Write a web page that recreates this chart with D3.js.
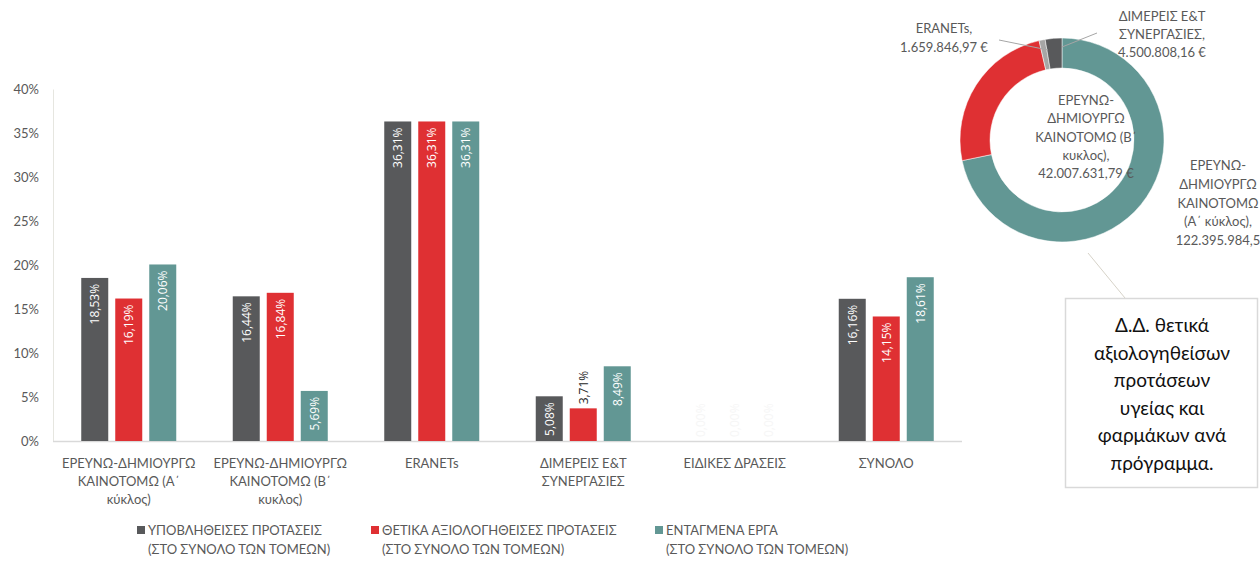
<!DOCTYPE html>
<html><head><meta charset="utf-8">
<script src="https://cdn.jsdelivr.net/npm/d3@7"></script>
<style>body{margin:0;background:#fff;}svg{display:block;font-family:Lato,"Open Sans",sans-serif;}</style>
</head><body><svg id="c" width="1260" height="561"></svg>
<script>
const categories = [
  ["ΕΡΕΥΝΩ-ΔΗΜΙΟΥΡΓΩ","ΚΑΙΝΟΤΟΜΩ (Α΄","κύκλος)"],
  ["ΕΡΕΥΝΩ-ΔΗΜΙΟΥΡΓΩ","ΚΑΙΝΟΤΟΜΩ (Β΄","κυκλος)"],
  ["ERANETs"],
  ["ΔΙΜΕΡΕΙΣ Ε&Τ","ΣΥΝΕΡΓΑΣΙΕΣ"],
  ["ΕΙΔΙΚΕΣ ΔΡΑΣΕΙΣ"],
  ["ΣΥΝΟΛΟ"]
];
const seriesNames = [
  ["ΥΠΟΒΛΗΘΕΙΣΕΣ ΠΡΟΤΑΣΕΙΣ","(ΣΤΟ ΣΥΝΟΛΟ ΤΩΝ ΤΟΜΕΩΝ)"],
  ["ΘΕΤΙΚΑ ΑΞΙΟΛΟΓΗΘΕΙΣΕΣ ΠΡΟΤΑΣΕΙΣ","(ΣΤΟ ΣΥΝΟΛΟ ΤΩΝ ΤΟΜΕΩΝ)"],
  ["ΕΝΤΑΓΜΕΝΑ ΕΡΓΑ","(ΣΤΟ ΣΥΝΟΛΟ ΤΩΝ ΤΟΜΕΩΝ)"]
];
const submitted = [18.53, 16.44, 36.31, 5.08, 0, 16.16];
const approved  = [16.19, 16.84, 36.31, 3.71, 0, 14.15];
const funded    = [20.06, 5.69, 36.31, 8.49, 0, 18.61];
const yTicks = [0,5,10,15,20,25,30,35,40];

const donutLabels = [
  ["ΕΡΕΥΝΩ-","ΔΗΜΙΟΥΡΓΩ","ΚΑΙΝΟΤΟΜΩ","(Α΄ κύκλος),","122.395.984,5"],
  ["ΕΡΕΥΝΩ-","ΔΗΜΙΟΥΡΓΩ","ΚΑΙΝΟΤΟΜΩ (Β΄","κυκλος),","42.007.631,79 €"],
  ["ERANETs,","1.659.846,97 €"],
  ["ΔΙΜΕΡΕΙΣ Ε&Τ","ΣΥΝΕΡΓΑΣΙΕΣ,","4.500.808,16 €"]
];
const donutValues = [122395984.5, 42007631.79, 1659846.97, 4500808.16];
const boxText = ["Δ.Δ. θετικά","αξιολογηθείσων","προτάσεων","υγείας και","φαρμάκων ανά","πρόγραμμα."];

const colors = ["#58595b","#df3033","#629794"];
const donutColors = ["#629794","#df3033","#a6a6a6","#58595b"];
const series = [submitted, approved, funded];

const svg = d3.select("#c");
const x0 = d3.scaleBand().domain(d3.range(categories.length)).range([53, 962]);
const groupW = 95;
const x1 = d3.scaleBand().domain([0,1,2]).range([0, groupW]).paddingInner(0.206);
const y = d3.scaleLinear().domain([0,40]).range([441, 89]);

// axes
const yAxis = svg.append("g").attr("transform","translate(53,0)")
  .call(d3.axisLeft(y).tickValues(yTicks).tickFormat(d=>d+"%").tickSize(0).tickPadding(14));
yAxis.select(".domain").attr("stroke","#e6e6e0");
yAxis.selectAll("text").attr("fill","#595959").attr("font-size",13).attr("font-family","Lato,sans-serif");

svg.append("line").attr("x1",53).attr("x2",962).attr("y1",y(0)+0.5).attr("y2",y(0)+0.5).attr("stroke","#d9d9d9").attr("stroke-width",1.5);

// bars
series.forEach((vals,si)=>{
  const g = svg.append("g");
  vals.forEach((v,ci)=>{
    const bx = x0(ci) + (x0.bandwidth()-groupW)/2 + x1(si);
    const bw = x1.bandwidth();
    if (v>0) g.append("rect").attr("x",bx).attr("y",y(v)).attr("width",bw).attr("height",y(0)-y(v)).attr("fill",colors[si]);
    const lbl = v.toFixed(2).replace(".",",")+"%";
    const inside = v>4;
    const cx = bx + bw/2;
    const ty = inside ? y(v)+6 : (v>0 ? y(v)-4 : y(0)-4);
    g.append("text")
      .attr("transform",`translate(${cx+4.5},${ty}) rotate(-90)`)
      .attr("text-anchor", inside ? "end" : "start")
      .attr("font-size",12).attr("font-family","'Open Sans',sans-serif")
      .attr("fill", v===0 ? "#f6f6f6" : (inside ? "#ffffff" : "#262626"))
      .text(lbl);
  });
});

// category labels
categories.forEach((lines,ci)=>{
  const t = svg.append("text").attr("x", x0(ci)+x0.bandwidth()/2).attr("y",468)
    .attr("text-anchor","middle").attr("fill","#595959").attr("font-size",13);
  lines.forEach((l,i)=>t.append("tspan").attr("x",x0(ci)+x0.bandwidth()/2).attr("dy", i?18:0).text(l));
});

// legend
const legX = [137, 371, 655];
seriesNames.forEach((lines,si)=>{
  svg.append("rect").attr("x",legX[si]).attr("y",526).attr("width",8).attr("height",8).attr("fill",colors[si]);
  const t = svg.append("text").attr("y",535).attr("fill","#595959").attr("font-size",13);
  t.append("tspan").attr("x",legX[si]+11).text(lines[0]);
  t.append("tspan").attr("x",legX[si]+11).attr("dy",19).text(lines[1]);
});

// donut
const cx = 1062, cy = 140;
const pie = d3.pie().sort(null).value(d=>d)(donutValues);
const arc = d3.arc().innerRadius(72).outerRadius(102);
const dg = svg.append("g").attr("transform",`translate(${cx},${cy})`);
dg.selectAll("path").data(pie).join("path").attr("d",arc).attr("fill",(d,i)=>donutColors[i]).attr("stroke","#fff").attr("stroke-width",0.5);

// leader lines
svg.append("line").attr("x1",999).attr("y1",40).attr("x2",1048).attr("y2",50).attr("stroke","#a6a6a6").attr("stroke-width",1);
svg.append("line").attr("x1",1062).attr("y1",47).attr("x2",1097).attr("y2",33).attr("stroke","#a6a6a6").attr("stroke-width",1);
svg.append("line").attr("x1",1088).attr("y1",253).attr("x2",1125).attr("y2",298).attr("stroke","#d6d3c8").attr("stroke-width",1);

function multi(lines, x, y0, dy, anchor, size, fill){
  const t = svg.append("text").attr("y",y0).attr("text-anchor",anchor).attr("font-size",size).attr("fill",fill);
  lines.forEach((l,i)=>t.append("tspan").attr("x",x).attr("dy",i?dy:0).text(l));
}
multi(donutLabels[0], 1218, 170, 18.8, "middle", 13, "#595959");
multi(donutLabels[1], 1086, 105, 18.3, "middle", 13, "#595959");
multi(donutLabels[2], 944, 33, 18.5, "middle", 13, "#595959");
multi(donutLabels[3], 1162, 21, 18.2, "middle", 13, "#595959");

// text box
svg.append("rect").attr("x",1065.5).attr("y",298.5).attr("width",192).attr("height",189).attr("fill","#fff").attr("stroke","#d9d9d9").attr("stroke-width",1.5);
multi(boxText, 1162, 332, 27.5, "middle", 19, "#111111");
</script></body></html>
